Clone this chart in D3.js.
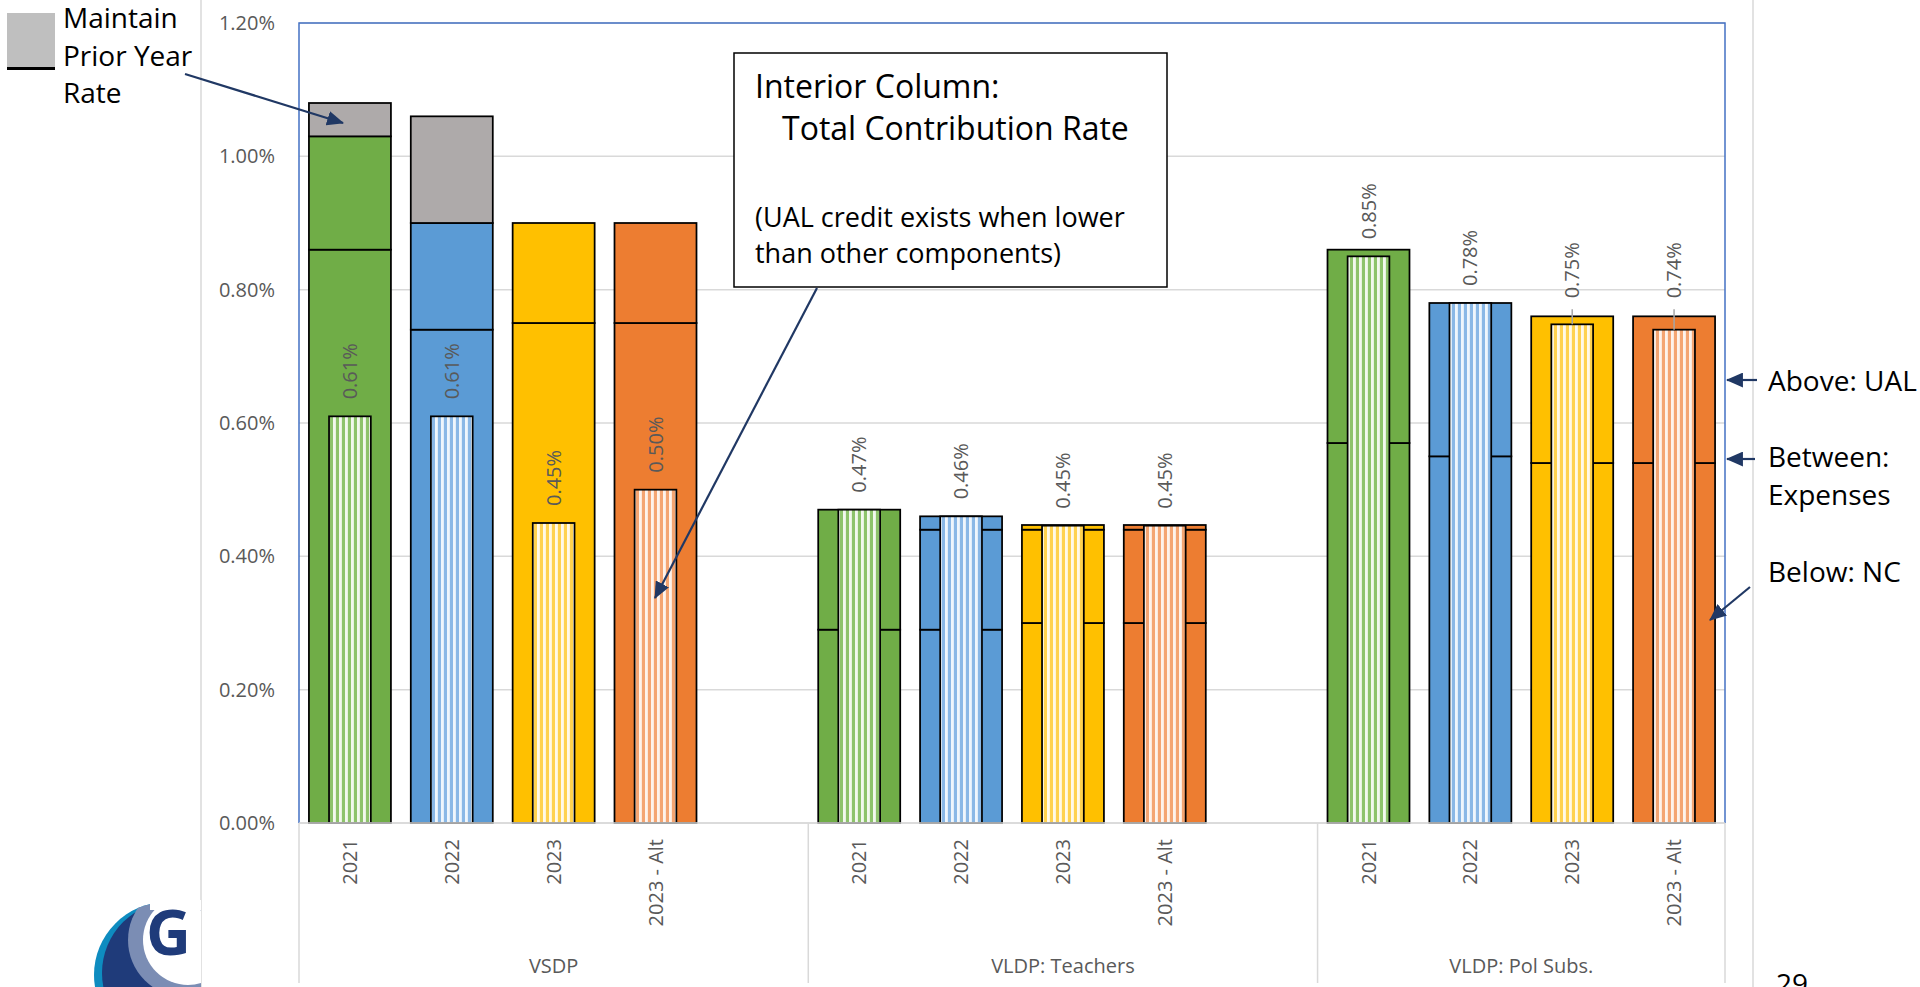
<!DOCTYPE html>
<html lang="en">
<head>
<meta charset="UTF-8">
<title>Contribution rate components</title>
<script src="https://cdn.jsdelivr.net/npm/d3@7/dist/d3.min.js"></script>
<style>
  body { margin: 0; background: #fff; }
  svg { display: block; font-family: "Open Sans", sans-serif; }
</style>
</head>
<body>
<script>
// data (% of pay)
var groups = ["VSDP", "VLDP: Teachers", "VLDP: Pol Subs."]
var years = ["2021", "2022", "2023", "2023 - Alt"]
var normalCost = [0.86, 0.74, 0.75, 0.75, 0.29, 0.29, 0.30, 0.30, 0.57, 0.55, 0.54, 0.54]
var expenses = [0.17, 0.16, 0.15, 0.15, 0.18, 0.15, 0.14, 0.14, 0.29, 0.23, 0.22, 0.22]
var ualRate = [0, 0, 0, 0, 0, 0.02, 0.007, 0.007, 0, 0, 0, 0]
var priorYear = [0.05, 0.16, 0, 0, 0, 0, 0, 0, 0, 0, 0, 0]
var totalRate = [0.61, 0.61, 0.45, 0.50, 0.47, 0.46, 0.446, 0.446, 0.85, 0.78, 0.748, 0.74]
var yTicks = [0, 0.2, 0.4, 0.6, 0.8, 1.0, 1.2]

var width = 1920
var height = 987
var yearColors = ["#70AD47", "#5B9BD5", "#FFC000", "#ED7D31"]
var paleColors = ["#E6F2DE", "#E0EDF9", "#FFF4D4", "#FCE8DA"]
var stripeColors = ["#8DC36B", "#8AB8E6", "#FFD24F", "#F4A572"]
var grayFill = "#AEAAAA"
var navy = "#203864"
var labelGray = "#595959"

var plotLeft = 299, plotRight = 1725, plotTop = 23, plotBottom = 823

var svg = d3.select('body').append('svg')
    .attr('width', width)
    .attr('height', height)

var defs = svg.append('defs')
yearColors.forEach(function (c, i) {
    var p = defs.append('pattern')
        .attr('id', 'stripe' + i)
        .attr('patternUnits', 'userSpaceOnUse')
        .attr('width', 6).attr('height', 10)
    p.append('rect').attr('width', 6).attr('height', 10).attr('fill', paleColors[i])
    p.append('rect').attr('x', 0).attr('width', 3).attr('height', 10).attr('fill', stripeColors[i])
    p.append('rect').attr('x', 3.5).attr('width', 1).attr('height', 10).attr('fill', '#fff')
})
defs.append('marker')
    .attr('id', 'arrow')
    .attr('markerUnits', 'userSpaceOnUse')
    .attr('viewBox', '0 0 16 14')
    .attr('refX', 15).attr('refY', 7)
    .attr('markerWidth', 17).attr('markerHeight', 15)
    .attr('orient', 'auto')
    .append('path').attr('d', 'M0,0 L16,7 L0,14 Z').attr('fill', navy)

// records and slots (blank slot between groups)
var records = []
groups.forEach(function (g, gi) {
    years.forEach(function (yr, yi) {
        records.push({key: g + '|' + yr, group: g, year: yr, yi: yi, i: gi * years.length + yi})
    })
})
var slots = []
groups.forEach(function (g, gi) {
    years.forEach(function (yr) { slots.push(g + '|' + yr) })
    if (gi < groups.length - 1) slots.push(g + '|gap')
})

var x = d3.scaleBand().domain(slots).range([plotLeft, plotRight])
var y = d3.scaleLinear().domain([0, 1.2]).range([plotBottom, plotTop])
var bw = x.bandwidth() * 0.805
var iw = x.bandwidth() * 0.41

// outer chart area borders
svg.selectAll('line.outer').data([201, 1753]).enter().append('line')
    .attr('x1', function (d) { return d }).attr('x2', function (d) { return d })
    .attr('y1', 0).attr('y2', height)
    .attr('stroke', '#D9D9D9').attr('stroke-width', 1.5)

// gridlines
svg.selectAll('line.grid').data(yTicks).enter().append('line')
    .attr('x1', plotLeft).attr('x2', plotRight)
    .attr('y1', function (d) { return y(d) }).attr('y2', function (d) { return y(d) })
    .attr('stroke', '#D9D9D9').attr('stroke-width', 1.5)

// y axis
var yAxis = svg.append('g')
    .attr('transform', 'translate(' + plotLeft + ',0)')
    .call(d3.axisLeft(y).tickValues(yTicks).tickSize(0).tickPadding(24)
        .tickFormat(function (d) { return d.toFixed(2) + '%' }))
yAxis.select('.domain').remove()
yAxis.selectAll('text')
    .attr('fill', labelGray)
    .style('font-size', '20px')
    .style('font-family', '"Open Sans", sans-serif')

// stacked outer columns
var table = records.map(function (r) {
    return {key: r.key, yi: r.yi, nc: normalCost[r.i], exp: expenses[r.i], ual: ualRate[r.i], prior: priorYear[r.i]}
})
var stack = d3.stack().keys(['nc', 'exp', 'ual', 'prior'])
var series = stack(table)

series.forEach(function (s) {
    svg.append('g').selectAll('rect')
        .data(s.filter(function (d) { return d[1] - d[0] > 1e-9 }))
        .enter().append('rect')
        .attr('x', function (d) { return x(d.data.key) + (x.bandwidth() - bw) / 2 })
        .attr('width', bw)
        .attr('y', function (d) { return y(d[1]) })
        .attr('height', function (d) { return y(d[0]) - y(d[1]) })
        .attr('fill', function (d) { return s.key === 'prior' ? grayFill : yearColors[d.data.yi] })
        .attr('stroke', '#000')
        .attr('stroke-width', 1.75)
})

// interior column: total contribution rate
svg.append('g').selectAll('rect')
    .data(records)
    .enter().append('rect')
    .attr('x', function (d) { return x(d.key) + (x.bandwidth() - iw) / 2 })
    .attr('width', iw)
    .attr('y', function (d) { return y(totalRate[d.i]) })
    .attr('height', function (d) { return y(0) - y(totalRate[d.i]) })
    .attr('fill', function (d) { return 'url(#stripe' + d.yi + ')' })
    .attr('stroke', '#000')
    .attr('stroke-width', 1.75)

// data labels (two are moved above the column with a leader line)
var leaderKeys = ['VLDP: Pol Subs.|2023', 'VLDP: Pol Subs.|2023 - Alt']
records.forEach(function (d) {
    var cx = x(d.key) + x.bandwidth() / 2
    var innerTop = y(totalRate[d.i])
    var outerTop = y(normalCost[d.i] + expenses[d.i] + ualRate[d.i] + priorYear[d.i])
    var lb = innerTop - 17
    if (leaderKeys.indexOf(d.key) >= 0) {
        lb = outerTop - 18
        svg.append('line')
            .attr('x1', cx).attr('x2', cx)
            .attr('y1', lb + 11).attr('y2', innerTop)
            .attr('stroke', '#A6A6A6').attr('stroke-width', 1.5)
    }
    svg.append('text')
        .attr('transform', 'translate(' + cx + ',' + lb + ') rotate(-90)')
        .attr('dy', '0.35em')
        .attr('fill', labelGray)
        .style('font-size', '20px')
        .text(totalRate[d.i].toFixed(2) + '%')
})

// plot border (blue) and category axis line
svg.append('path')
    .attr('d', 'M' + plotLeft + ',' + plotBottom + 'V' + plotTop + 'H' + plotRight + 'V' + plotBottom)
    .attr('fill', 'none').attr('stroke', '#4472C4').attr('stroke-width', 1.5)
svg.append('line')
    .attr('x1', plotLeft).attr('x2', plotRight)
    .attr('y1', plotBottom).attr('y2', plotBottom)
    .attr('stroke', '#D9D9D9').attr('stroke-width', 1.5)

// x axis: years
var xAxis = svg.append('g')
    .attr('transform', 'translate(0,' + plotBottom + ')')
    .call(d3.axisBottom(x).tickSize(0)
        .tickFormat(function (k) { return k.endsWith('|gap') ? '' : k.split('|')[1] }))
xAxis.select('.domain').remove()
xAxis.selectAll('text')
    .attr('transform', 'rotate(-90)')
    .attr('x', -16).attr('y', 0).attr('dy', '0.35em')
    .style('text-anchor', 'end')
    .attr('fill', labelGray)
    .style('font-size', '20px')
    .style('font-family', '"Open Sans", sans-serif')

// x axis: groups
var groupEdges = groups.map(function (g) { return x(g + '|' + years[0]) }).concat([plotRight])
svg.selectAll('line.sep').data(groupEdges).enter().append('line')
    .attr('x1', function (d) { return d }).attr('x2', function (d) { return d })
    .attr('y1', plotBottom).attr('y2', 983)
    .attr('stroke', '#D9D9D9').attr('stroke-width', 1.5)
svg.selectAll('text.grp').data(groups).enter().append('text')
    .attr('x', function (d, i) { return (groupEdges[i] + groupEdges[i + 1]) / 2 })
    .attr('y', 973)
    .attr('text-anchor', 'middle')
    .attr('fill', labelGray)
    .style('font-size', '20px')
    .text(function (d) { return d })

// legend note, top left
svg.append('rect').attr('x', 7).attr('y', 13).attr('width', 48).attr('height', 54).attr('fill', '#BFBFBF')
svg.append('line').attr('x1', 7).attr('x2', 55).attr('y1', 68.5).attr('y2', 68.5)
    .attr('stroke', '#000').attr('stroke-width', 3)
var note = svg.append('text').attr('x', 63).style('font-size', '28px').attr('fill', '#000')
;['Maintain', 'Prior Year', 'Rate'].forEach(function (t, i) {
    note.append('tspan').attr('x', 63).attr('y', 28 + i * 37.5).text(t)
})

// interior column callout
svg.append('rect').attr('x', 734).attr('y', 53).attr('width', 433).attr('height', 234)
    .attr('fill', '#fff').attr('stroke', '#000').attr('stroke-width', 1.5)
svg.append('text').attr('x', 755).attr('y', 98).style('font-size', '32px').text('Interior Column:')
svg.append('text').attr('x', 782).attr('y', 140).style('font-size', '32px').text('Total Contribution Rate')
svg.append('text').attr('x', 755).attr('y', 227).style('font-size', '27px').text('(UAL credit exists when lower')
svg.append('text').attr('x', 755).attr('y', 263).style('font-size', '27px').text('than other components)')

// right side notes
var rightNotes = [['Above: UAL', 391], ['Between:', 467], ['Expenses', 505], ['Below: NC', 582]]
rightNotes.forEach(function (n) {
    svg.append('text').attr('x', 1768).attr('y', n[1]).style('font-size', '28px').text(n[0])
})

// arrows
var arrows = [
    [185, 74, 343, 123],
    [817, 288, 655, 598],
    [1757, 380, 1727, 380],
    [1755, 459, 1727, 459],
    [1750, 587, 1710, 620]
]
arrows.forEach(function (a) {
    svg.append('line')
        .attr('x1', a[0]).attr('y1', a[1]).attr('x2', a[2]).attr('y2', a[3])
        .attr('stroke', navy).attr('stroke-width', 2.2)
        .attr('marker-end', 'url(#arrow)')
})

// logo, bottom left
var logoClip = defs.append('clipPath').attr('id', 'logoClip')
logoClip.append('path')
    .attr('d', 'M80,987 H201 V900 H80 Z')
var logo = svg.append('g').attr('clip-path', 'url(#logoClip)')
var logoInner = logo.append('g')
defs.append('clipPath').attr('id', 'logoOuter')
    .append('circle').attr('cx', 167).attr('cy', 975).attr('r', 73)
logoInner.attr('clip-path', 'url(#logoOuter)')
logoInner.append('rect').attr('x', 80).attr('y', 900).attr('width', 121).attr('height', 87).attr('fill', '#0E8CC0')
logoInner.append('circle').attr('cx', 174).attr('cy', 973).attr('r', 72).attr('fill', '#1F3B7A')
logoInner.append('circle').attr('cx', 185).attr('cy', 940).attr('r', 57).attr('fill', '#7B8DB4')
logoInner.append('circle').attr('cx', 188).attr('cy', 940).attr('r', 45).attr('fill', '#fff')
logo.append('rect').attr('x', 150).attr('y', 900).attr('width', 51).attr('height', 10).attr('fill', '#fff')
logo.append('text').attr('x', 146).attr('y', 955)
    .style('font-size', '62px').style('font-weight', 'bold')
    .attr('fill', '#1F3B7A').text('G')

// page number
svg.append('text').attr('x', 1776).attr('y', 994).style('font-size', '28px').text('29')
</script>
</body>
</html>
